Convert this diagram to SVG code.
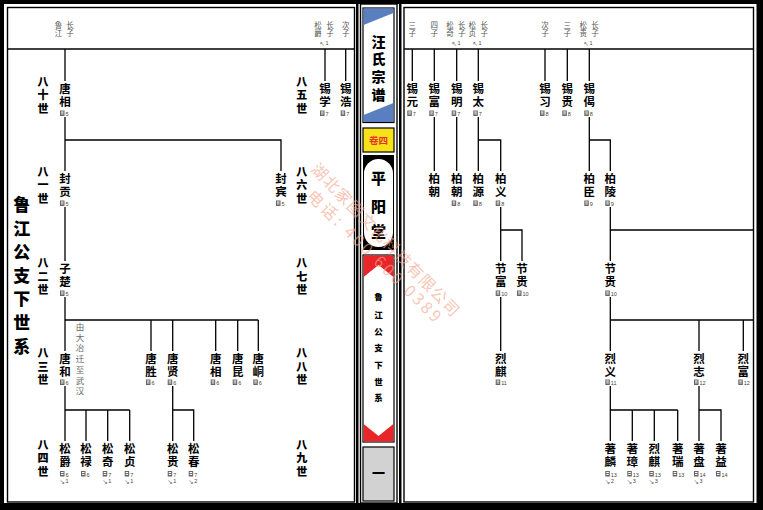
<svg xmlns="http://www.w3.org/2000/svg" xmlns:xlink="http://www.w3.org/1999/xlink" width="763" height="510" viewBox="0 0 763 510">
<style>
.ln{stroke:#000;stroke-width:1.3;fill:none}
.fr{stroke:#000;stroke-width:1.4;fill:none}
.v{writing-mode:vertical-rl;text-orientation:upright}
.nm{font-family:"Noto Sans CJK SC","Noto Sans CJK TC",sans-serif;font-size:11.5px;font-weight:700;fill:#000;letter-spacing:1.5px}
.gen{font-family:"Noto Sans CJK SC",sans-serif;font-size:11px;font-weight:900;fill:#000;letter-spacing:2.5px}
.ttl{font-family:"Noto Sans CJK SC",sans-serif;font-size:17px;font-weight:900;fill:#000;letter-spacing:6.6px}
.lb{font-family:"Noto Sans CJK SC",sans-serif;font-size:7.5px;font-weight:400;fill:#555;letter-spacing:1px}
.lb2{font-family:"Noto Sans CJK SC",sans-serif;font-size:8.5px;font-weight:400;fill:#666;letter-spacing:2.25px}
.tg{font-family:"Liberation Sans",sans-serif;font-size:5.5px;fill:#444}
.ar{font-family:"DejaVu Sans",sans-serif;font-size:6.5px;fill:#555;text-anchor:end}
.col{font-family:"Noto Sans CJK SC",sans-serif;font-weight:900;text-anchor:middle;fill:#000}
.wm{font-family:"Noto Sans CJK SC",sans-serif;font-size:16px;fill:#f4a58c;fill-opacity:0.65}
</style>
<defs>
<g id="pg"><rect x="0" y="0" width="4.5" height="5.5" fill="#666"/><rect x="1" y="1" width="2.5" height="1.1" fill="#fff"/><rect x="1" y="3" width="2.5" height="0.9" fill="#fff"/></g>
</defs>
<rect x="0" y="0" width="763" height="510" fill="#000"/>
<rect x="4" y="4" width="352" height="499" fill="#fff"/>
<rect x="358.5" y="4" width="40.5" height="499" fill="#fff"/>
<rect x="401.5" y="4" width="355" height="499" fill="#fff"/>
<rect class="fr" x="7.5" y="7.5" width="347" height="494.5"/>
<rect class="fr" x="360.5" y="4" width="36.5" height="499"/>
<rect class="fr" x="404" y="7.5" width="349.5" height="494.5"/>
<line class="ln" x1="7.5" y1="49" x2="354.5" y2="49"/>
<line class="ln" x1="404" y1="49" x2="753.5" y2="49"/>

<g id="center-column">
<rect x="363" y="8" width="31" height="114.5" fill="#fff" stroke="#000" stroke-width="1.2"/>
<polygon points="363.6,8.6 393.4,8.6 393.4,13 363.6,25" fill="#5a7fc0"/>
<polygon points="363.6,115 393.4,103 393.4,121.9 363.6,121.9" fill="#5a7fc0"/>
<text class="col v" font-size="14" letter-spacing="3.8" x="378.5" y="34.2" style="text-anchor:start">汪氏宗谱</text>
<rect x="363" y="128" width="31" height="24" fill="#f7e21a" stroke="#000" stroke-width="1.2"/>
<text x="378.5" y="143.5" font-family="Noto Sans CJK SC,sans-serif" font-size="9.5" font-weight="700" fill="#e8302a" text-anchor="middle">卷四</text>
<rect x="363" y="155" width="31" height="95" fill="#000"/>
<rect x="364" y="159" width="29" height="88" rx="14.5" fill="#fff"/>
<text class="col" font-size="15" x="378.5" y="183.5">平</text>
<text class="col" font-size="15" x="378.5" y="211.5">阳</text>
<text class="col" font-size="15" x="378.5" y="236.5">堂</text>
<rect x="363" y="255" width="31" height="187" fill="#fff" stroke="#000" stroke-width="1.2"/>
<polygon points="363.6,255.6 393.4,255.6 393.4,277 378.5,265 363.6,277" fill="#e8262a"/>
<polygon points="363.6,441.4 393.4,441.4 393.4,424 378.5,436 363.6,424" fill="#e8262a"/>
<text class="col" font-size="8.5" x="378.5" y="300">鲁</text>
<text class="col" font-size="8.5" x="378.5" y="318">江</text>
<text class="col" font-size="8.5" x="378.5" y="335">公</text>
<text class="col" font-size="8.5" x="378.5" y="351">支</text>
<text class="col" font-size="8.5" x="378.5" y="368">下</text>
<text class="col" font-size="8.5" x="378.5" y="385">世</text>
<text class="col" font-size="8.5" x="378.5" y="401">系</text>
<rect x="363" y="447" width="31" height="54" fill="#d2d2d2" stroke="#000" stroke-width="1.2"/>
<text class="col" font-size="13" x="378.5" y="477.5">一</text>
</g>

<g id="left-title">
<text class="ttl v" x="21.7" y="196">鲁江公支下世系</text>
</g>

<g id="generations">
<text class="gen v" x="43" y="76.3">八十世</text>
<text class="gen v" x="43" y="166.3">八一世</text>
<text class="gen v" x="43" y="257.8">八二世</text>
<text class="gen v" x="43" y="347.8">八三世</text>
<text class="gen v" x="43" y="439.3">八四世</text>
<text class="gen v" x="301.7" y="76.3">八五世</text>
<text class="gen v" x="301.7" y="166.3">八六世</text>
<text class="gen v" x="301.7" y="257.8">八七世</text>
<text class="gen v" x="301.7" y="347.8">八八世</text>
<text class="gen v" x="301.7" y="439.3">八九世</text>
</g>

<g id="top-labels">
<text class="lb v" x="70" y="21">长子</text>
<text class="lb v" x="58.5" y="21">鲁江</text>
<text class="lb v" x="330" y="21">长子</text>
<text class="lb v" x="318" y="21">松爵</text>
<text class="ar" x="325" y="45.5">↖</text><text class="tg" x="325.5" y="45">1</text>
<text class="lb v" x="345.7" y="21">次子</text>
<text class="lb v" x="412.3" y="21">三子</text>
<text class="lb v" x="434.3" y="21">四子</text>
<text class="lb v" x="450" y="21">松奇</text>
<text class="lb v" x="461.7" y="21">长子</text>
<text class="ar" x="457" y="45.5">↖</text><text class="tg" x="457.5" y="45">1</text>
<text class="lb v" x="472.3" y="21">松贞</text>
<text class="lb v" x="484.3" y="21">长子</text>
<text class="ar" x="478" y="45.5">↖</text><text class="tg" x="478.5" y="45">1</text>
<text class="lb v" x="545" y="21">次子</text>
<text class="lb v" x="567.3" y="21">三子</text>
<text class="lb v" x="583.3" y="21">松贵</text>
<text class="lb v" x="595" y="21">长子</text>
<text class="ar" x="589" y="45.5">↖</text><text class="tg" x="589.5" y="45">1</text>
</g>

<g id="connectors">
<path class="ln" d="M65,49V81 M65,117V171 M65,140H281V171 M65,207V261 M65,297V351 M65,320H258.3 M151,320V351 M172.7,320V351 M215.7,320V351 M237.7,320V351 M258.3,320V351 M65,386V441 M65,410H129.7 M86,410V441 M107.7,410V441 M129.7,410V441 M172.7,386V441 M172.7,410H193.7V441 M325,49V81 M345.7,49V81"/>
<path class="ln" d="M412.3,49V81 M434.3,49V81 M456.7,49V81 M478.3,49V81 M545,49V81 M567.3,49V81 M589.3,49V81 M434.3,117V171 M456.7,117V171 M478.3,117V171 M478.3,140H500.7V171 M589.3,117V171 M589.3,140H610.3V171 M500.7,207V261 M500.7,230H522V261 M610.3,207V261 M610.3,230H753.5 M500.7,297V351 M610.3,297V351 M610.3,320H753.5 M699,320V351 M743.3,320V351 M610.3,386V441 M610.3,410H677.7 M632.3,410V441 M654.3,410V441 M677.7,410V441 M699,386V441 M699,410H721V441"/>
</g>

<g id="n-tangxiang80"><text class="nm v" x="65" y="83">唐相</text><use xlink:href="#pg" x="60" y="110.5"/><text class="tg" x="65.5" y="116">5</text></g>
<g id="n-fenggong"><text class="nm v" x="65" y="173">封贡</text><use xlink:href="#pg" x="60" y="200.5"/><text class="tg" x="65.5" y="206">5</text></g>
<g id="n-fengbin"><text class="nm v" x="281" y="173">封宾</text><use xlink:href="#pg" x="276" y="200.5"/><text class="tg" x="281.5" y="206">5</text></g>
<g id="n-zichu"><text class="nm v" x="65" y="262.5">子楚</text><use xlink:href="#pg" x="60" y="290.5"/><text class="tg" x="65.5" y="296">5</text></g>
<g id="n-tanghe"><text class="nm v" x="65" y="353">唐和</text><use xlink:href="#pg" x="60" y="379.5"/><text class="tg" x="65.5" y="385">6</text>
<text class="lb2 v" x="80" y="322.5">由大冶迁至武汉</text></g>
<g id="n-tangsheng"><text class="nm v" x="151" y="353">唐胜</text><use xlink:href="#pg" x="146" y="379.5"/><text class="tg" x="151.5" y="385">6</text></g>
<g id="n-tangxian"><text class="nm v" x="172.7" y="353">唐贤</text><use xlink:href="#pg" x="167.7" y="379.5"/><text class="tg" x="173.2" y="385">6</text></g>
<g id="n-tangxiang83"><text class="nm v" x="215.7" y="353">唐相</text><use xlink:href="#pg" x="210.7" y="379.5"/><text class="tg" x="216.2" y="385">6</text></g>
<g id="n-tangkun"><text class="nm v" x="237.7" y="353">唐昆</text><use xlink:href="#pg" x="232.7" y="379.5"/><text class="tg" x="238.2" y="385">6</text></g>
<g id="n-tangdong"><text class="nm v" x="258.3" y="353">唐峒</text><use xlink:href="#pg" x="253.3" y="379.5"/><text class="tg" x="258.8" y="385">6</text></g>
<g id="n-songjue"><text class="nm v" x="65" y="443">松爵</text><use xlink:href="#pg" x="60" y="471"/><text class="tg" x="65.5" y="476.5">6</text><text class="ar" x="65" y="484">↘</text><text class="tg" x="65.5" y="483">1</text></g>
<g id="n-songlu"><text class="nm v" x="86" y="443">松禄</text><use xlink:href="#pg" x="81" y="471"/><text class="tg" x="86.5" y="476.5">6</text></g>
<g id="n-songqi"><text class="nm v" x="107.7" y="443">松奇</text><use xlink:href="#pg" x="102.7" y="471"/><text class="tg" x="108.2" y="476.5">7</text><text class="ar" x="107.7" y="484">↘</text><text class="tg" x="108.2" y="483">1</text></g>
<g id="n-songzhen"><text class="nm v" x="129.7" y="443">松贞</text><use xlink:href="#pg" x="124.7" y="471"/><text class="tg" x="130.2" y="476.5">7</text><text class="ar" x="129.7" y="484">↘</text><text class="tg" x="130.2" y="483">1</text></g>
<g id="n-songgui"><text class="nm v" x="172.7" y="443">松贵</text><use xlink:href="#pg" x="167.7" y="471"/><text class="tg" x="173.2" y="476.5">7</text><text class="ar" x="172.7" y="484">↘</text><text class="tg" x="173.2" y="483">1</text></g>
<g id="n-songchun"><text class="nm v" x="193.7" y="443">松春</text><use xlink:href="#pg" x="188.7" y="471"/><text class="tg" x="194.2" y="476.5">7</text><text class="ar" x="193.7" y="484">↘</text><text class="tg" x="194.2" y="483">2</text></g>
<g id="n-xixue"><text class="nm v" x="325" y="83">锡学</text><use xlink:href="#pg" x="320" y="110.5"/><text class="tg" x="325.5" y="116">7</text></g>
<g id="n-xihao"><text class="nm v" x="345.7" y="83">锡浩</text><use xlink:href="#pg" x="340.7" y="110.5"/><text class="tg" x="346.2" y="116">7</text></g>

<g id="n-xiyuan"><text class="nm v" x="412.3" y="83">锡元</text><use xlink:href="#pg" x="407.3" y="110.5"/><text class="tg" x="412.8" y="116">7</text></g>
<g id="n-xifu"><text class="nm v" x="434.3" y="83">锡富</text><use xlink:href="#pg" x="429.3" y="110.5"/><text class="tg" x="434.8" y="116">7</text></g>
<g id="n-ximing"><text class="nm v" x="456.7" y="83">锡明</text><use xlink:href="#pg" x="451.7" y="110.5"/><text class="tg" x="457.2" y="116">7</text></g>
<g id="n-xitai"><text class="nm v" x="478.3" y="83">锡太</text><use xlink:href="#pg" x="473.3" y="110.5"/><text class="tg" x="478.8" y="116">7</text></g>
<g id="n-xixi"><text class="nm v" x="545" y="83">锡习</text><use xlink:href="#pg" x="540" y="110.5"/><text class="tg" x="545.5" y="116">8</text></g>
<g id="n-xigui"><text class="nm v" x="567.3" y="83">锡贵</text><use xlink:href="#pg" x="562.3" y="110.5"/><text class="tg" x="567.8" y="116">8</text></g>
<g id="n-xiji"><text class="nm v" x="589.3" y="83">锡偈</text><use xlink:href="#pg" x="584.3" y="110.5"/><text class="tg" x="589.8" y="116">8</text></g>
<g id="n-baichao1"><text class="nm v" x="434.3" y="173">柏朝</text></g>
<g id="n-baichao2"><text class="nm v" x="456.7" y="173">柏朝</text><use xlink:href="#pg" x="451.7" y="200.5"/><text class="tg" x="457.2" y="206">8</text></g>
<g id="n-baiyuan"><text class="nm v" x="478.3" y="173">柏源</text><use xlink:href="#pg" x="473.3" y="200.5"/><text class="tg" x="478.8" y="206">8</text></g>
<g id="n-baiyi"><text class="nm v" x="500.7" y="173">柏义</text><use xlink:href="#pg" x="495.7" y="200.5"/><text class="tg" x="501.2" y="206">8</text></g>
<g id="n-baichen"><text class="nm v" x="589.3" y="173">柏臣</text><use xlink:href="#pg" x="584.3" y="200.5"/><text class="tg" x="589.8" y="206">9</text></g>
<g id="n-bailing"><text class="nm v" x="610.3" y="173">柏陵</text><use xlink:href="#pg" x="605.3" y="200.5"/><text class="tg" x="610.8" y="206">9</text></g>
<g id="n-jiefu"><text class="nm v" x="500.7" y="262.5">节富</text><use xlink:href="#pg" x="495.7" y="290.5"/><text class="tg" x="501.2" y="296">10</text></g>
<g id="n-jiegui1"><text class="nm v" x="522" y="262.5">节贵</text><use xlink:href="#pg" x="517" y="290.5"/><text class="tg" x="522.5" y="296">10</text></g>
<g id="n-jiegui2"><text class="nm v" x="610.3" y="262.5">节贵</text><use xlink:href="#pg" x="605.3" y="290.5"/><text class="tg" x="610.8" y="296">10</text></g>
<g id="n-lieqi88"><text class="nm v" x="500.7" y="353">烈麒</text><use xlink:href="#pg" x="495.7" y="379.5"/><text class="tg" x="501.2" y="385">11</text></g>
<g id="n-lieyi"><text class="nm v" x="610.3" y="353">烈义</text><use xlink:href="#pg" x="605.3" y="379.5"/><text class="tg" x="610.8" y="385">11</text></g>
<g id="n-liezhi"><text class="nm v" x="699" y="353">烈志</text><use xlink:href="#pg" x="694" y="379.5"/><text class="tg" x="699.5" y="385">12</text></g>
<g id="n-liefu"><text class="nm v" x="743.3" y="353">烈富</text><use xlink:href="#pg" x="738.3" y="379.5"/><text class="tg" x="743.8" y="385">12</text></g>
<g id="n-zhulin"><text class="nm v" x="610.3" y="443">著麟</text><use xlink:href="#pg" x="605.3" y="471"/><text class="tg" x="610.8" y="476.5">13</text><text class="ar" x="610.3" y="484">↘</text><text class="tg" x="610.8" y="483">2</text></g>
<g id="n-zhuzhang"><text class="nm v" x="632.3" y="443">著璋</text><use xlink:href="#pg" x="627.3" y="471"/><text class="tg" x="632.8" y="476.5">13</text><text class="ar" x="632.3" y="484">↘</text><text class="tg" x="632.8" y="483">3</text></g>
<g id="n-lieqi89"><text class="nm v" x="654.3" y="443">烈麒</text><use xlink:href="#pg" x="649.3" y="471"/><text class="tg" x="654.8" y="476.5">13</text><text class="ar" x="654.3" y="484">↘</text><text class="tg" x="654.8" y="483">3</text></g>
<g id="n-zhurui"><text class="nm v" x="677.7" y="443">著瑞</text><use xlink:href="#pg" x="672.7" y="471"/><text class="tg" x="678.2" y="476.5">13</text></g>
<g id="n-zhupan"><text class="nm v" x="699" y="443">著盘</text><use xlink:href="#pg" x="694" y="471"/><text class="tg" x="699.5" y="476.5">14</text><text class="ar" x="699" y="484">↘</text><text class="tg" x="699.5" y="483">3</text></g>
<g id="n-zhuyi"><text class="nm v" x="721" y="443">著益</text><use xlink:href="#pg" x="716" y="471"/><text class="tg" x="721.5" y="476.5">14</text></g>

<g id="watermark">
<text class="wm" transform="translate(310,170) rotate(46)" textLength="205" lengthAdjust="spacing">湖北家图文化科技有限公司</text>
<text class="wm" transform="translate(306,197) rotate(44.5)" textLength="180" lengthAdjust="spacing">电话: 400  600  0389</text>
</g>
</svg>
